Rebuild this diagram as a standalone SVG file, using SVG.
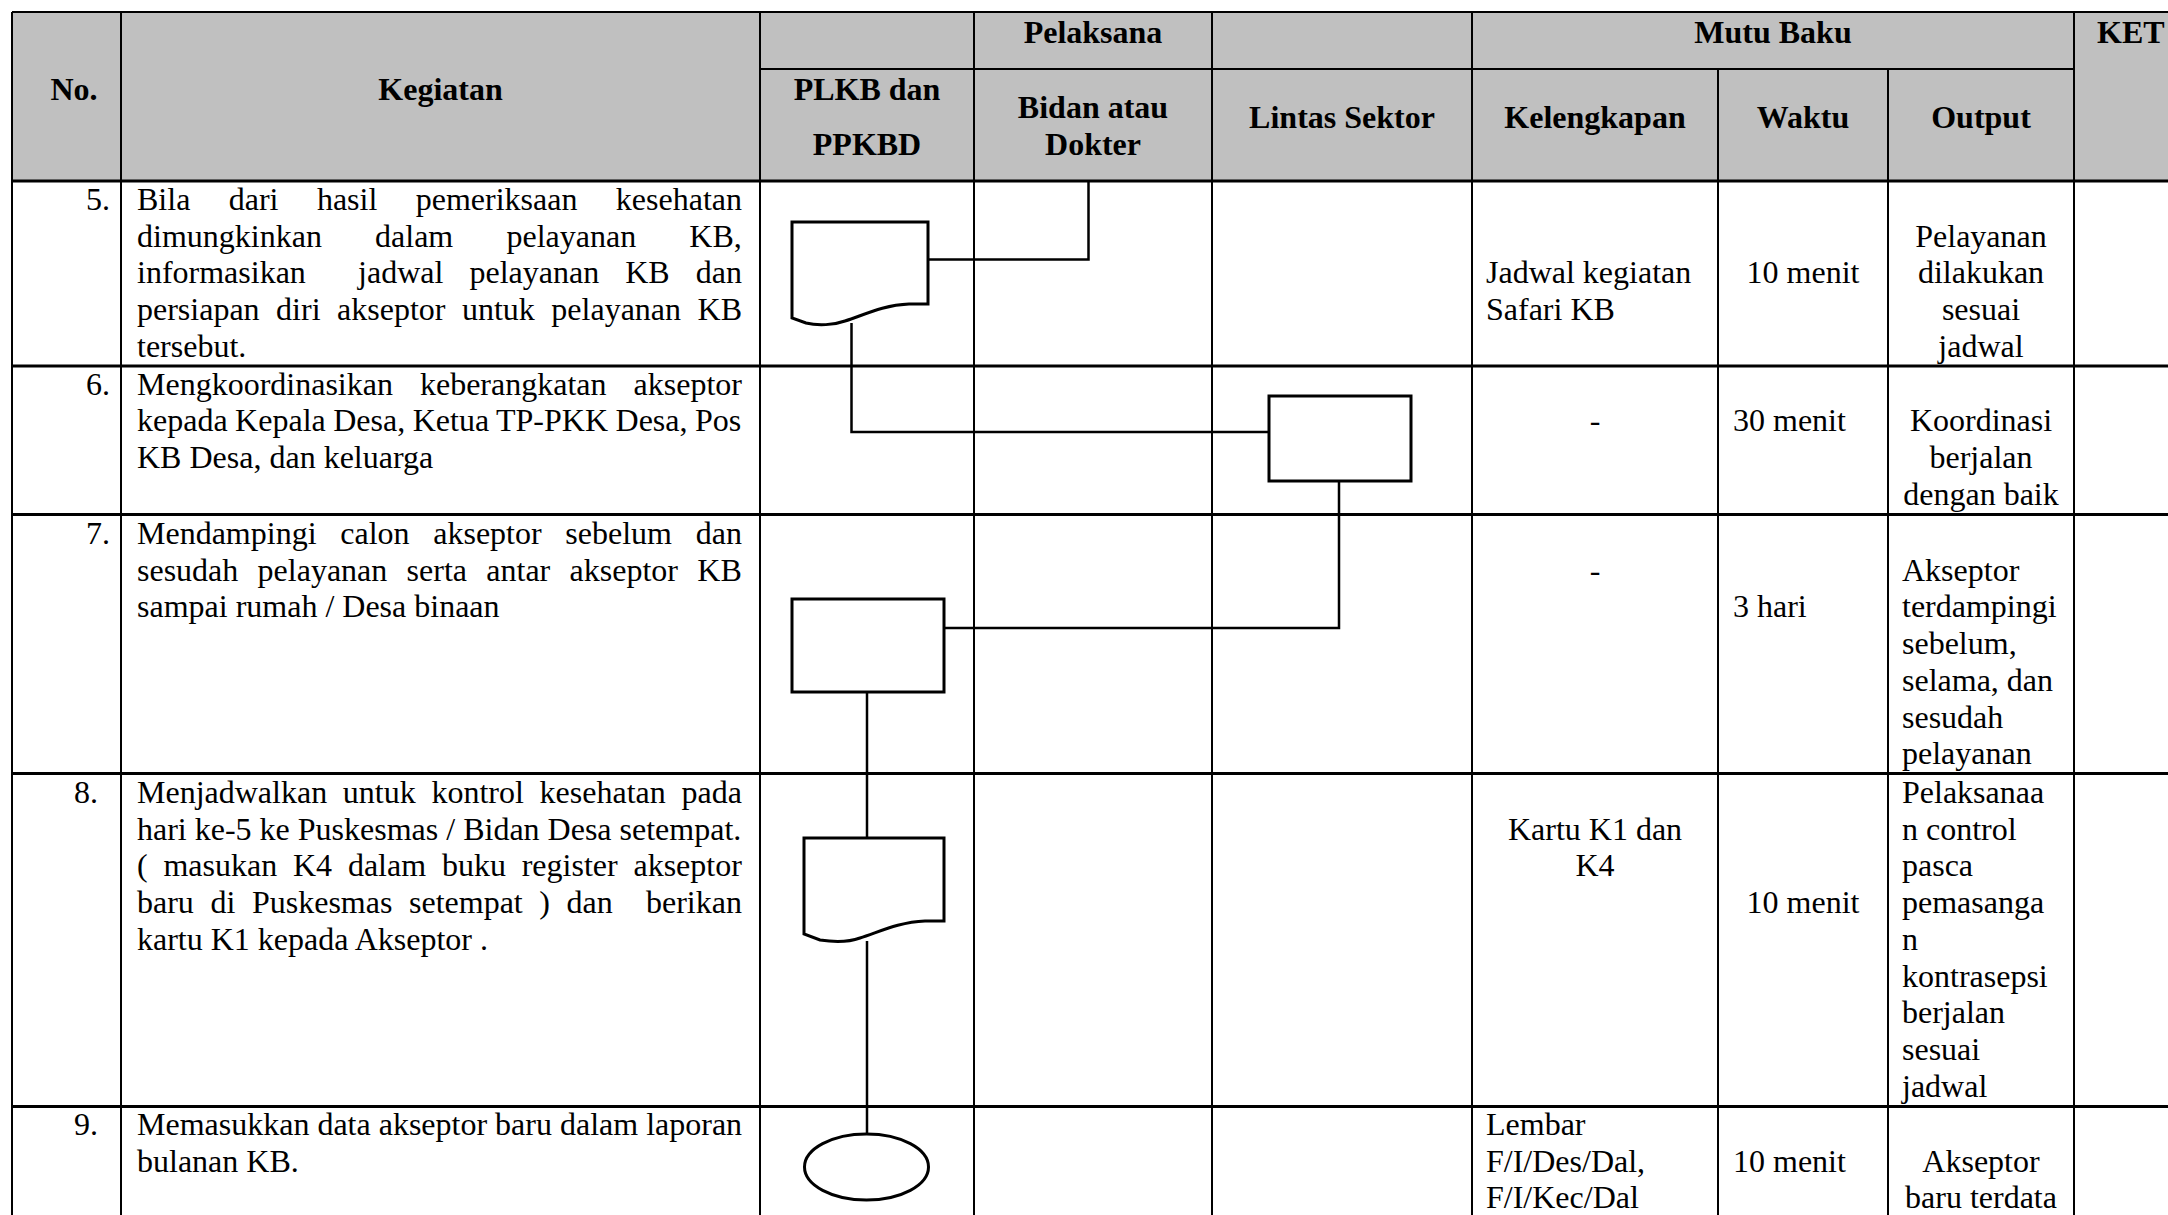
<svg xmlns="http://www.w3.org/2000/svg" width="2168" height="1215" viewBox="0 0 2168 1215">
<style>
text{font-family:'Liberation Serif','Times New Roman',serif;font-size:32px;fill:#000}
.b{font-weight:bold}
.c{text-anchor:middle}
.e{text-anchor:end}
.v{stroke:#000;stroke-width:2;fill:none}
.h{stroke:#000;stroke-width:3;fill:none}
.shape{fill:#fff;stroke:#000;stroke-width:3}
.conn{fill:none;stroke:#000;stroke-width:2.5}
</style>
<rect width="2168" height="1215" fill="#fff"/>
<g id="table">
<rect x="12" y="12" width="2160" height="169" fill="#c0c0c0"/>
<path class="v" d="M12,12H2168M760,69H2074"/>
<path class="h" d="M12,181H2168M12,366H2168M12,514.5H2168M12,773.5H2168M12,1106.5H2168"/>
<path class="v" d="M12,12V1215M121,12V1215M760,12V1215M974,12V1215M1212,12V1215M1472,12V1215M1718,69V1215M1888,69V1215M2074,12V1215"/>
</g>
<g id="header">
<text class="b c" x="74" y="100">No.</text>
<text class="b c" x="440.5" y="100">Kegiatan</text>
<text class="b c" x="1093" y="43">Pelaksana</text>
<text class="b c" x="1773" y="43">Mutu Baku</text>
<text class="b" x="2097" y="43">KET</text>
<text class="b c" x="867" y="100">PLKB dan</text>
<text class="b c" x="867" y="155">PPKBD</text>
<text class="b c" x="1093" y="118">Bidan atau</text>
<text class="b c" x="1093" y="155">Dokter</text>
<text class="b c" x="1342" y="128">Lintas Sektor</text>
<text class="b c" x="1595" y="128">Kelengkapan</text>
<text class="b c" x="1803" y="128">Waktu</text>
<text class="b c" x="1981" y="128">Output</text>
</g>
<g id="row5">
<text class="e" x="110" y="210">5.</text>
<text x="137" y="210" style="word-spacing:30.4px">Bila dari hasil pemeriksaan kesehatan</text>
<text x="137" y="246.7" style="word-spacing:45.2px">dimungkinkan dalam pelayanan KB,</text>
<text x="137" y="283.3" xml:space="preserve" style="word-spacing:18.1px;white-space:pre">informasikan  jadwal pelayanan KB dan</text>
<text x="137" y="320" style="word-spacing:8.5px">persiapan diri akseptor untuk pelayanan KB</text>
<text x="137" y="356.7">tersebut.</text>
<text x="1486" y="283.3">Jadwal kegiatan</text>
<text x="1486" y="320">Safari KB</text>
<text class="c" x="1803" y="283.3">10 menit</text>
<text class="c" x="1981" y="246.7">Pelayanan</text>
<text class="c" x="1981" y="283.3">dilakukan</text>
<text class="c" x="1981" y="320">sesuai</text>
<text class="c" x="1981" y="356.7">jadwal</text>
</g>
<g id="row6">
<text class="e" x="110" y="394.5">6.</text>
<text x="137" y="394.5" style="word-spacing:19px">Mengkoordinasikan keberangkatan akseptor</text>
<text x="137" y="431.2" style="word-spacing:-0.5px">kepada Kepala Desa, Ketua TP-PKK Desa, Pos</text>
<text x="137" y="467.9">KB Desa, dan keluarga</text>
<text class="c" x="1595" y="431.2">-</text>
<text x="1733" y="431.2">30 menit</text>
<text class="c" x="1981" y="431.2">Koordinasi</text>
<text class="c" x="1981" y="467.9">berjalan</text>
<text class="c" x="1981" y="504.6">dengan baik</text>
</g>
<g id="row7">
<text class="e" x="110" y="544">7.</text>
<text x="137" y="544" style="word-spacing:15.7px">Mendampingi calon akseptor sebelum dan</text>
<text x="137" y="580.7" style="word-spacing:11.3px">sesudah pelayanan serta antar akseptor KB</text>
<text x="137" y="617.4">sampai rumah / Desa binaan</text>
<text class="c" x="1595" y="580.7">-</text>
<text x="1733" y="617.4">3 hari</text>
<text x="1902" y="580.7">Akseptor</text>
<text x="1902" y="617.4">terdampingi</text>
<text x="1902" y="654.1">sebelum,</text>
<text x="1902" y="690.8">selama, dan</text>
<text x="1902" y="727.5">sesudah</text>
<text x="1902" y="764.2">pelayanan</text>
</g>
<g id="row8">
<text class="e" x="98" y="803">8.</text>
<text x="137" y="803" style="word-spacing:7.7px">Menjadwalkan untuk kontrol kesehatan pada</text>
<text x="137" y="839.7">hari ke-5 ke Puskesmas / Bidan Desa setempat.</text>
<text x="137" y="876.4" style="word-spacing:7.8px">( masukan K4 dalam buku register akseptor</text>
<text x="137" y="913.1" xml:space="preserve" style="word-spacing:8.6px;white-space:pre">baru di Puskesmas setempat ) dan  berikan</text>
<text x="137" y="949.8">kartu K1 kepada Akseptor .</text>
<text class="c" x="1595" y="839.7">Kartu K1 dan</text>
<text class="c" x="1595" y="876.4">K4</text>
<text class="c" x="1803" y="913.1">10 menit</text>
<text x="1902" y="803">Pelaksanaa</text>
<text x="1902" y="839.7">n control</text>
<text x="1902" y="876.4">pasca</text>
<text x="1902" y="913.1">pemasanga</text>
<text x="1902" y="949.8">n</text>
<text x="1902" y="986.5">kontrasepsi</text>
<text x="1902" y="1023.2">berjalan</text>
<text x="1902" y="1059.9">sesuai</text>
<text x="1902" y="1096.6">jadwal</text>
</g>
<g id="row9">
<text class="e" x="98" y="1135">9.</text>
<text x="137" y="1135">Memasukkan data akseptor baru dalam laporan</text>
<text x="137" y="1171.7">bulanan KB.</text>
<text x="1486" y="1135">Lembar</text>
<text x="1486" y="1171.7">F/I/Des/Dal,</text>
<text x="1486" y="1208.4">F/I/Kec/Dal</text>
<text x="1733" y="1171.7">10 menit</text>
<text class="c" x="1981" y="1171.7">Akseptor</text>
<text class="c" x="1981" y="1208.4">baru terdata</text>
</g>
<g id="connectors">
<path class="conn" d="M1088.5,181V259.5H928"/>
<path class="conn" d="M851.5,323V432H1269"/>
<path class="conn" d="M1339,481V628H944"/>
<path class="conn" d="M867,692V838"/>
<path class="conn" d="M867,941V1134"/>
</g>
<g id="node-doc1">
<path class="shape" d="M792,222H928V304H909C882,305 862,316 845,321C834,325 818,326 806,323L792,318Z"/>
</g>
<g id="node-rect2">
<rect class="shape" x="1269" y="396" width="142" height="85"/>
</g>
<g id="node-rect3">
<rect class="shape" x="792" y="599" width="152" height="93"/>
</g>
<g id="node-doc2">
<path class="shape" d="M804,838H944V921H925C898,922 877,933 860,938C849,942 833,942 820,940L804,934Z"/>
</g>
<g id="node-end">
<ellipse class="shape" cx="866.5" cy="1167" rx="62" ry="33"/>
</g>
</svg>
